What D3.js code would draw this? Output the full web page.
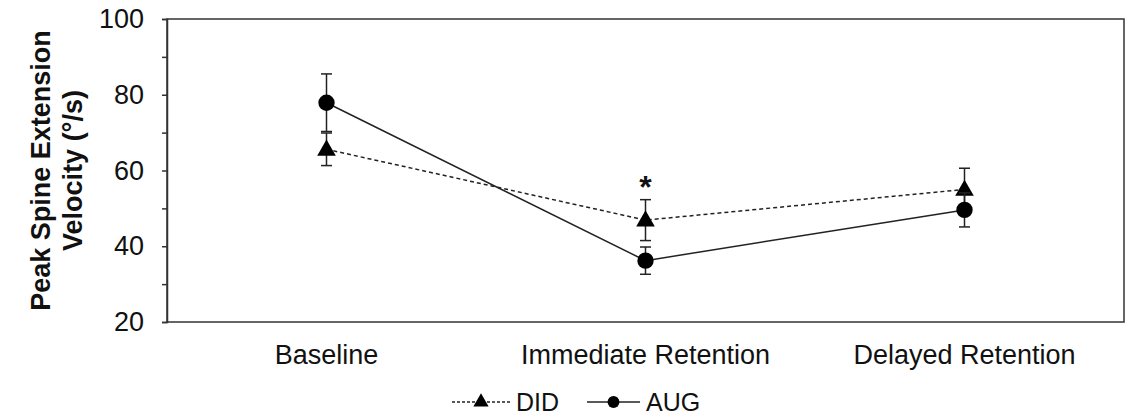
<!DOCTYPE html>
<html>
<head>
<meta charset="utf-8">
<script src="https://cdn.jsdelivr.net/npm/d3@7"></script>
<style>
  body { margin: 0; background: #fff; }
  svg text { font-family: "Liberation Sans", Arial, sans-serif; fill: #111; }
</style>
</head>
<body>
<svg id="chart"></svg>
<script>
const width = 1135, height = 417
const categories = ['Baseline', 'Immediate Retention', 'Delayed Retention']
const didMean = [65.6, 46.9, 55.0]
const didErr = [4.3, 5.4, 5.6]
const augMean = [77.9, 36.2, 49.6]
const augErr = [7.6, 3.6, 4.5]
const yTicks = [20, 30, 40, 50, 60, 70, 80, 90, 100]
const sigIndex = [1]

const margin = { top: 19, right: 11, bottom: 95, left: 167 }

let svg = d3.select('#chart').attr('width', width).attr('height', height)

let x = d3.scalePoint()
  .domain(categories)
  .range([margin.left, width - margin.right])
  .padding(0.5)

let y = d3.scaleLinear()
  .domain([20, 100])
  .range([height - margin.bottom, margin.top])

const ink = '#222'

// frame
svg.append('rect')
  .attr('x', margin.left).attr('y', margin.top)
  .attr('width', width - margin.right - margin.left)
  .attr('height', height - margin.bottom - margin.top)
  .attr('fill', 'none').attr('stroke', '#333').attr('stroke-width', 1.5)

// y axis
let yAxis = svg.append('g')
  .attr('transform', `translate(${margin.left},0)`)
  .call(d3.axisLeft(y).tickValues(yTicks).tickSize(5).tickPadding(18)
    .tickFormat(d => d % 20 === 0 ? d : ''))
yAxis.select('.domain').attr('stroke', '#333').attr('stroke-width', 1.5)
yAxis.selectAll('.tick line').attr('stroke', '#333').attr('stroke-width', 1.5)
yAxis.selectAll('.tick text').style('font-size', '27px').attr('fill', '#111')

// x labels
svg.selectAll('.xlab').data(categories).enter().append('text')
  .attr('class', 'xlab')
  .attr('x', d => x(d))
  .attr('y', 364)
  .attr('text-anchor', 'middle')
  .style('font-size', '27px')
  .text(d => d)

// y title
let yt = svg.append('text')
  .attr('transform', `translate(50,${(margin.top + height - margin.bottom) / 2}) rotate(-90)`)
  .attr('text-anchor', 'middle')
  .style('font-size', '27px').style('font-weight', 'bold')
yt.append('tspan').attr('x', 0).attr('dy', 0).text('Peak Spine Extension')
yt.append('tspan').attr('x', 0).attr('dy', 32).text('Velocity (°/s)')

const series = [
  { name: 'DID', mean: didMean, err: didErr, dash: '4,3', symbol: d3.symbolTriangle, size: 150 },
  { name: 'AUG', mean: augMean, err: augErr, dash: null, symbol: d3.symbolCircle, size: 210 }
]

const line = d3.line().x((d, i) => x(categories[i])).y(d => y(d))

series.forEach(s => {
  let g = svg.append('g')
  // error bars
  s.mean.forEach((m, i) => {
    let cx = x(categories[i])
    g.append('line')
      .attr('x1', cx).attr('x2', cx)
      .attr('y1', y(m - s.err[i])).attr('y2', y(m + s.err[i]))
      .attr('stroke', ink).attr('stroke-width', 1.5)
    ;[m - s.err[i], m + s.err[i]].forEach(v => {
      g.append('line')
        .attr('x1', cx - 5.5).attr('x2', cx + 5.5)
        .attr('y1', y(v)).attr('y2', y(v))
        .attr('stroke', ink).attr('stroke-width', 1.5)
    })
  })
  g.append('path')
    .attr('d', line(s.mean))
    .attr('fill', 'none').attr('stroke', ink).attr('stroke-width', 1.5)
    .attr('stroke-dasharray', s.dash)
  g.selectAll('.mk').data(s.mean).enter().append('path')
    .attr('d', d3.symbol().type(s.symbol).size(s.size))
    .attr('transform', (d, i) => `translate(${x(categories[i])},${y(d) + (s.symbol === d3.symbolTriangle ? 1 : 0)})`)
    .attr('fill', '#000')
})

// significance marker
sigIndex.forEach(i => {
  svg.append('text')
    .attr('x', x(categories[i]))
    .attr('y', y(didMean[i] + didErr[i]) + 2)
    .attr('dy', -4)
    .attr('text-anchor', 'middle')
    .style('font-size', '32px').style('font-weight', 'bold')
    .text('*')
})

// legend
let lg = svg.append('g').attr('transform', 'translate(0,402)')
let legendItems = [
  { s: series[0], x0: 452, x1: 510, label: 'DID', size: 100 },
  { s: series[1], x0: 587, x1: 640, label: 'AUG', size: 110 }
]
legendItems.forEach(it => {
  lg.append('line')
    .attr('x1', it.x0).attr('x2', it.x1).attr('y1', 0).attr('y2', 0)
    .attr('stroke', ink).attr('stroke-width', 1.5)
    .attr('stroke-dasharray', it.s.dash ? '3,2' : null)
  lg.append('path')
    .attr('d', d3.symbol().type(it.s.symbol).size(it.size))
    .attr('transform', `translate(${(it.x0 + it.x1) / 2},0)`)
    .attr('fill', '#000')
  lg.append('text')
    .attr('x', it.x1 + 6).attr('y', 0).attr('dy', '0.34em')
    .style('font-size', '25px')
    .text(it.label)
})
</script>
</body>
</html>
